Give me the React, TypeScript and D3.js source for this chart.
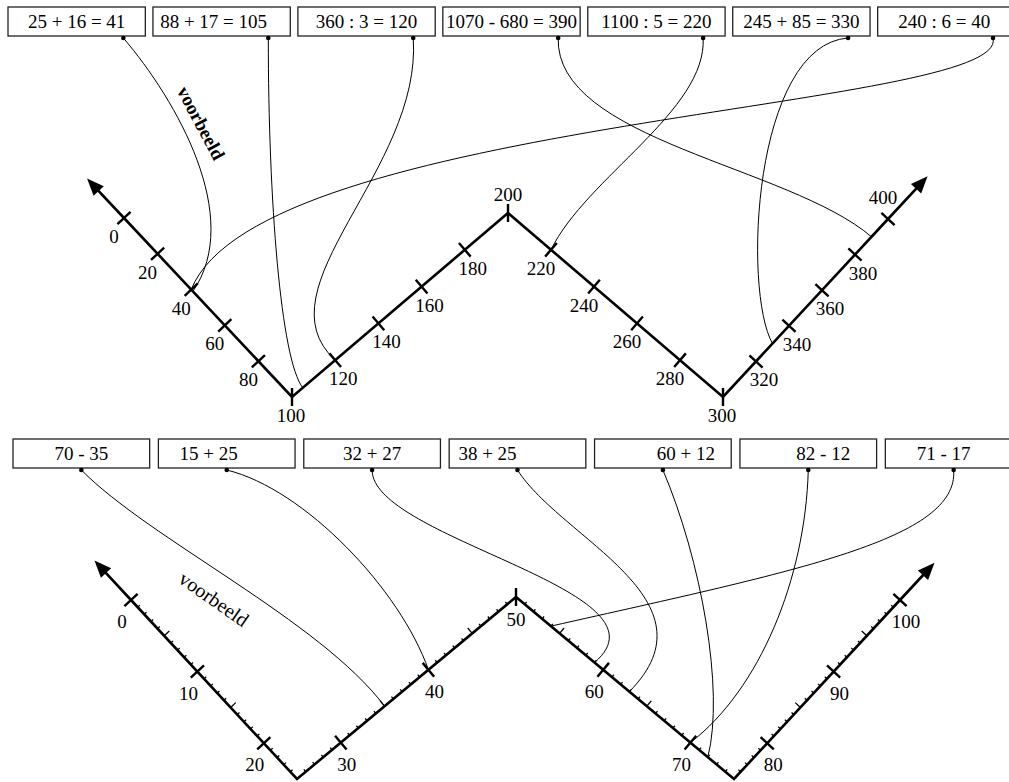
import React from 'react';
import * as d3 from 'd3';

// ---------- data ----------
const topQuestions = ['25 + 16 = 41', '88 + 17 = 105', '360 : 3 = 120', '1070 - 680 = 390', '1100 : 5 = 220', '245 + 85 = 330', '240 : 6 = 40'];
const topAnswers = [41, 105, 120, 390, 220, 330, 40];
const topVertexValues = [0, 100, 200, 300, 400];
const topTicks = d3.range(0, 401, 20);

const bottomQuestions = ['70 - 35', '15 + 25', '32 + 27', '38 + 25', '60 + 12', '82 - 12', '71 - 17'];
const bottomAnswers = [35, 40, 59, 63, 72, 70, 54];
const bottomVertexValues = [0, 25, 50, 75, 100];
const bottomMajorTicks = d3.range(0, 101, 10);
const bottomMinorTicks = d3.range(0, 101, 1);

const exampleLabel = 'voorbeeld';

// ---------- styles / layout ----------
const W = 1009, H = 782;
const FONT = '"Liberation Serif", "Times New Roman", serif';
const FS = 19;

// zigzag geometry (range of the polylinear scales)
const topX = [124, 292, 508, 723, 888];
const topY = [218, 397, 213, 397, 219];
const botX = [131, 297, 516, 734, 900];
const botY = [600, 779, 597, 779, 600];

// connector bend offsets: [c1dx, c1dy (from start), c2dx, c2dy (from end)]
const topBends = [
  [53, 62, 51, -74],
  [0, 162, -22, -28],
  [9, 132, -78, -72],
  [-3, 102, -83, -71],
  [4, 72, 35, -72],
  [-95, 7, -30, -53],
  [18, 72, 68, -172],
];
const bottomBends = [
  [68, 69, -65, -86],
  [78, 19, -28, -80],
  [0, 69, 85, -72],
  [44, 69, 91, -92],
  [38, 89, 17, -67],
  [-3, 109, 69, -53],
  [5, 69, 249, -56],
];
const topTextDx = [0, -8, 0, 0, 0, 0, -2];
const bottomTextDx = [0, -18, 0, -30, 23, 15, -10];

function dirAt(sx: any, sy: any, v: number) {
  const e = 0.01;
  const dx = sx(v + e) - sx(v - e);
  const dy = sy(v + e) - sy(v - e);
  const l = Math.hypot(dx, dy);
  return [dx / l, dy / l];
}

function Zigzag({ sx, sy, vertices, majorTicks, minorTicks, start, end, tickLen, labelFor }: any) {
  const extent = [start, ...vertices, end];
  const arrowLen = 17, arrowHalf = 7;
  const arrows = [
    { tip: start, d: dirAt(sx, sy, start + 0.5).map((c) => -c) },
    { tip: end, d: dirAt(sx, sy, end - 0.5) },
  ];
  const innerVertices = vertices.slice(1, -1);
  const isVertex = (v: number) => innerVertices.includes(v);
  const pts = extent.map((v: number) => [sx(v), sy(v)]);
  const a0 = arrows[0], a1 = arrows[1];
  pts[0] = [sx(start) - a0.d[0] * arrowLen * 0.6, sy(start) - a0.d[1] * arrowLen * 0.6];
  pts[pts.length - 1] = [sx(end) - a1.d[0] * arrowLen * 0.6, sy(end) - a1.d[1] * arrowLen * 0.6];
  const pathD = d3.line()(pts as any);
  return (
    <g>
      <path d={pathD || ''} fill="none" stroke="#000" strokeWidth={2.6} strokeLinejoin="miter" />
      {arrows.map((a, i) => {
        const tx = sx(a.tip), ty = sy(a.tip);
        const bx = tx - a.d[0] * arrowLen, by = ty - a.d[1] * arrowLen;
        const nx = -a.d[1], ny = a.d[0];
        return (
          <polygon key={i}
            points={`${tx},${ty} ${bx + nx * arrowHalf},${by + ny * arrowHalf} ${bx - nx * arrowHalf},${by - ny * arrowHalf}`}
            fill="#000" />
        );
      })}
      {minorTicks && minorTicks.filter((v: number) => !vertices.includes(v) && v % 10 !== 0).map((v: number) => {
        const [dx, dy] = dirAt(sx, sy, v);
        let nx = -dy, ny = dx;
        if (ny > 0) { nx = -nx; ny = -ny; }
        const len = v % 5 === 0 ? 7 : 3;
        return <line key={'m' + v} x1={sx(v)} y1={sy(v)} x2={sx(v) + nx * len} y2={sy(v) + ny * len} stroke="#000" strokeWidth={1.3} />;
      })}
      {majorTicks.map((v: number) => {
        const x = sx(v), y = sy(v);
        if (isVertex(v)) {
          return <line key={v} x1={x} y1={y - tickLen} x2={x} y2={y + tickLen} stroke="#000" strokeWidth={2.4} />;
        }
        const [dx, dy] = dirAt(sx, sy, v);
        const nx = -dy, ny = dx;
        return <line key={v} x1={x - nx * tickLen} y1={y - ny * tickLen} x2={x + nx * tickLen} y2={y + ny * tickLen} stroke="#000" strokeWidth={2.4} />;
      })}
      {majorTicks.map((v: number) => {
        const [ox, oy] = labelFor(v);
        return (
          <text key={'l' + v} x={sx(v) + ox} y={sy(v) + oy + 6} textAnchor="middle" fontFamily={FONT} fontSize={FS}>{v}</text>
        );
      })}
    </g>
  );
}

function Boxes({ questions, answers, band, y0, h, dotFrac, textDx, baseline, sx, sy, bends }: any) {
  const bw = band.bandwidth();
  return (
    <g>
      {questions.map((q: string, i: number) => {
        const x = band(i);
        const dx0 = x + bw * dotFrac, dy0 = y0 + h + 2;
        const ex = sx(answers[i]), ey = sy(answers[i]);
        const b = bends[i];
        const p = d3.path();
        p.moveTo(dx0, dy0);
        p.bezierCurveTo(dx0 + b[0], dy0 + b[1], ex + b[2], ey + b[3], ex, ey);
        return (
          <g key={i}>
            <path d={p.toString()} fill="none" stroke="#000" strokeWidth={1} />
            <rect x={x} y={y0} width={bw} height={h} fill="#fff" stroke="#222" strokeWidth={1.3} />
            <text x={x + bw / 2 + textDx[i]} y={baseline} textAnchor="middle" fontFamily={FONT} fontSize={FS}>{q}</text>
            <circle cx={dx0} cy={dy0} r={2.3} fill="#000" />
          </g>
        );
      })}
    </g>
  );
}

export default function App() {
  const tsx = d3.scaleLinear().domain(topVertexValues).range(topX);
  const tsy = d3.scaleLinear().domain(topVertexValues).range(topY);
  const bsx = d3.scaleLinear().domain(bottomVertexValues).range(botX);
  const bsy = d3.scaleLinear().domain(bottomVertexValues).range(botY);

  const topBand = d3.scaleBand<number>().domain(d3.range(topQuestions.length)).range([8, 1015]).paddingInner(0.0526);
  const botBand = d3.scaleBand<number>().domain(d3.range(bottomQuestions.length)).range([13, 1022]).paddingInner(0.06);

  const topLabel = (v: number) => {
    if (v === 400) return [-5, -21];
    if (v === 200) return [0, -18];
    if (v === 100 || v === 300) return [-1, 19];
    if (v < 100 || (v > 200 && v < 300)) return [-10, 19];
    return [8, 19];
  };
  const botLabel = (v: number) => {
    if (v === 50) return [0, 23];
    if (v < 25 || (v > 50 && v < 75)) return [-9, 22];
    return [6, 22];
  };

  return (
    <svg width={W} height={H} viewBox={`0 0 ${W} ${H}`} style={{ position: 'absolute', left: 0, top: 0, background: '#fff' }}>
      <rect x={0} y={0} width={W} height={H} fill="#fff" />
      <Boxes questions={topQuestions} answers={topAnswers} band={topBand} y0={7} h={29} dotFrac={0.84}
        textDx={topTextDx} baseline={28} sx={tsx} sy={tsy} bends={topBends} />
      <Boxes questions={bottomQuestions} answers={bottomAnswers} band={botBand} y0={439} h={29} dotFrac={0.5}
        textDx={bottomTextDx} baseline={460} sx={bsx} sy={bsy} bends={bottomBends} />
      <Zigzag sx={tsx} sy={tsy} vertices={topVertexValues} majorTicks={topTicks} start={-22} end={424}
        tickLen={9} labelFor={topLabel} />
      <Zigzag sx={bsx} sy={bsy} vertices={bottomVertexValues} majorTicks={bottomMajorTicks} minorTicks={bottomMinorTicks}
        start={-5.5} end={105.2} tickLen={9} labelFor={botLabel} />
      <text transform="translate(201,123) rotate(62)" textAnchor="middle" dominantBaseline="central"
        fontFamily={FONT} fontSize={19} fontWeight="bold">{exampleLabel}</text>
      <text transform="translate(214,599) rotate(35)" textAnchor="middle" dominantBaseline="central"
        fontFamily={FONT} fontSize={20}>{exampleLabel}</text>
    </svg>
  );
}
